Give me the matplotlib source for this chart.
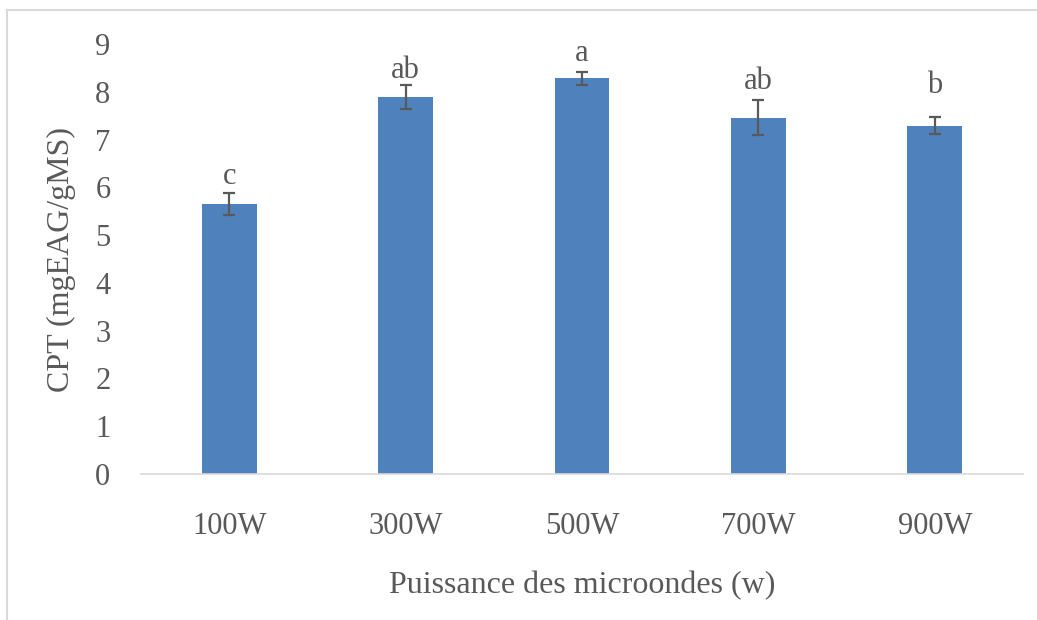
import matplotlib
matplotlib.use('Agg')
import matplotlib.pyplot as plt
from matplotlib.lines import Line2D
import numpy as np

# data
powers = ['100W', '300W', '500W', '700W', '900W']
cpt_mean = [5.66, 7.89, 8.28, 7.46, 7.29]
cpt_err = [0.23, 0.26, 0.13, 0.36, 0.18]
letters = ['c', 'ab', 'a', 'ab', 'b']
letter_gap = [6, 5, 8, 8, 17]   # points above error bar (hand placed in original)

TEXT = '#595959'
BAR = '#4F81BD'
FONT = 'Liberation Serif'

plt.rcParams['font.family'] = [FONT, 'DejaVu Serif']

W, H = 1037, 620
fig = plt.figure(figsize=(W / 100, H / 100), dpi=100)
fig.patch.set_facecolor('white')

# chart area frame (only top & left visible in the crop)
fig.add_artist(Line2D([7 / W, 1], [1 - 10 / H, 1 - 10 / H], color='#D9D9D9', lw=1.5))
fig.add_artist(Line2D([7 / W, 7 / W], [0, 1 - 10 / H], color='#D9D9D9', lw=1.5))

ax = fig.add_axes([141 / W, 1 - 474 / H, (1023 - 141) / W, (474 - 44) / H])
x = np.arange(len(powers))
ax.bar(x, cpt_mean, width=0.31, color=BAR, zorder=2)
ax.errorbar(x, cpt_mean, yerr=cpt_err, fmt='none', ecolor=TEXT, elinewidth=1.6,
            capsize=4.5, capthick=1.6, zorder=3)

for i, lab in enumerate(letters):
    ax.annotate(lab, (x[i], cpt_mean[i] + cpt_err[i]), xytext=(0, letter_gap[i]),
                textcoords='offset points', ha='center', va='baseline',
                fontsize=22, color=TEXT)

ax.set_xlim(-0.5, len(powers) - 0.5)
ax.set_ylim(0, 9)
ax.set_yticks(range(0, 10))
ax.set_xticks(x)
ax.set_xticklabels(powers)

for s in ['top', 'right', 'left']:
    ax.spines[s].set_visible(False)
ax.spines['bottom'].set_color('#D9D9D9')
ax.spines['bottom'].set_linewidth(1.2)
ax.tick_params(axis='both', length=0, labelsize=22, labelcolor=TEXT)
ax.tick_params(axis='y', pad=22)
ax.tick_params(axis='x', pad=27)

ax.set_xlabel('Puissance des microondes (w)', fontsize=23, color=TEXT, labelpad=22)
ax.set_ylabel('CPT (mgEAG/gMS)', fontsize=23, color=TEXT, labelpad=14)

fig.savefig('out.png', dpi=100)
